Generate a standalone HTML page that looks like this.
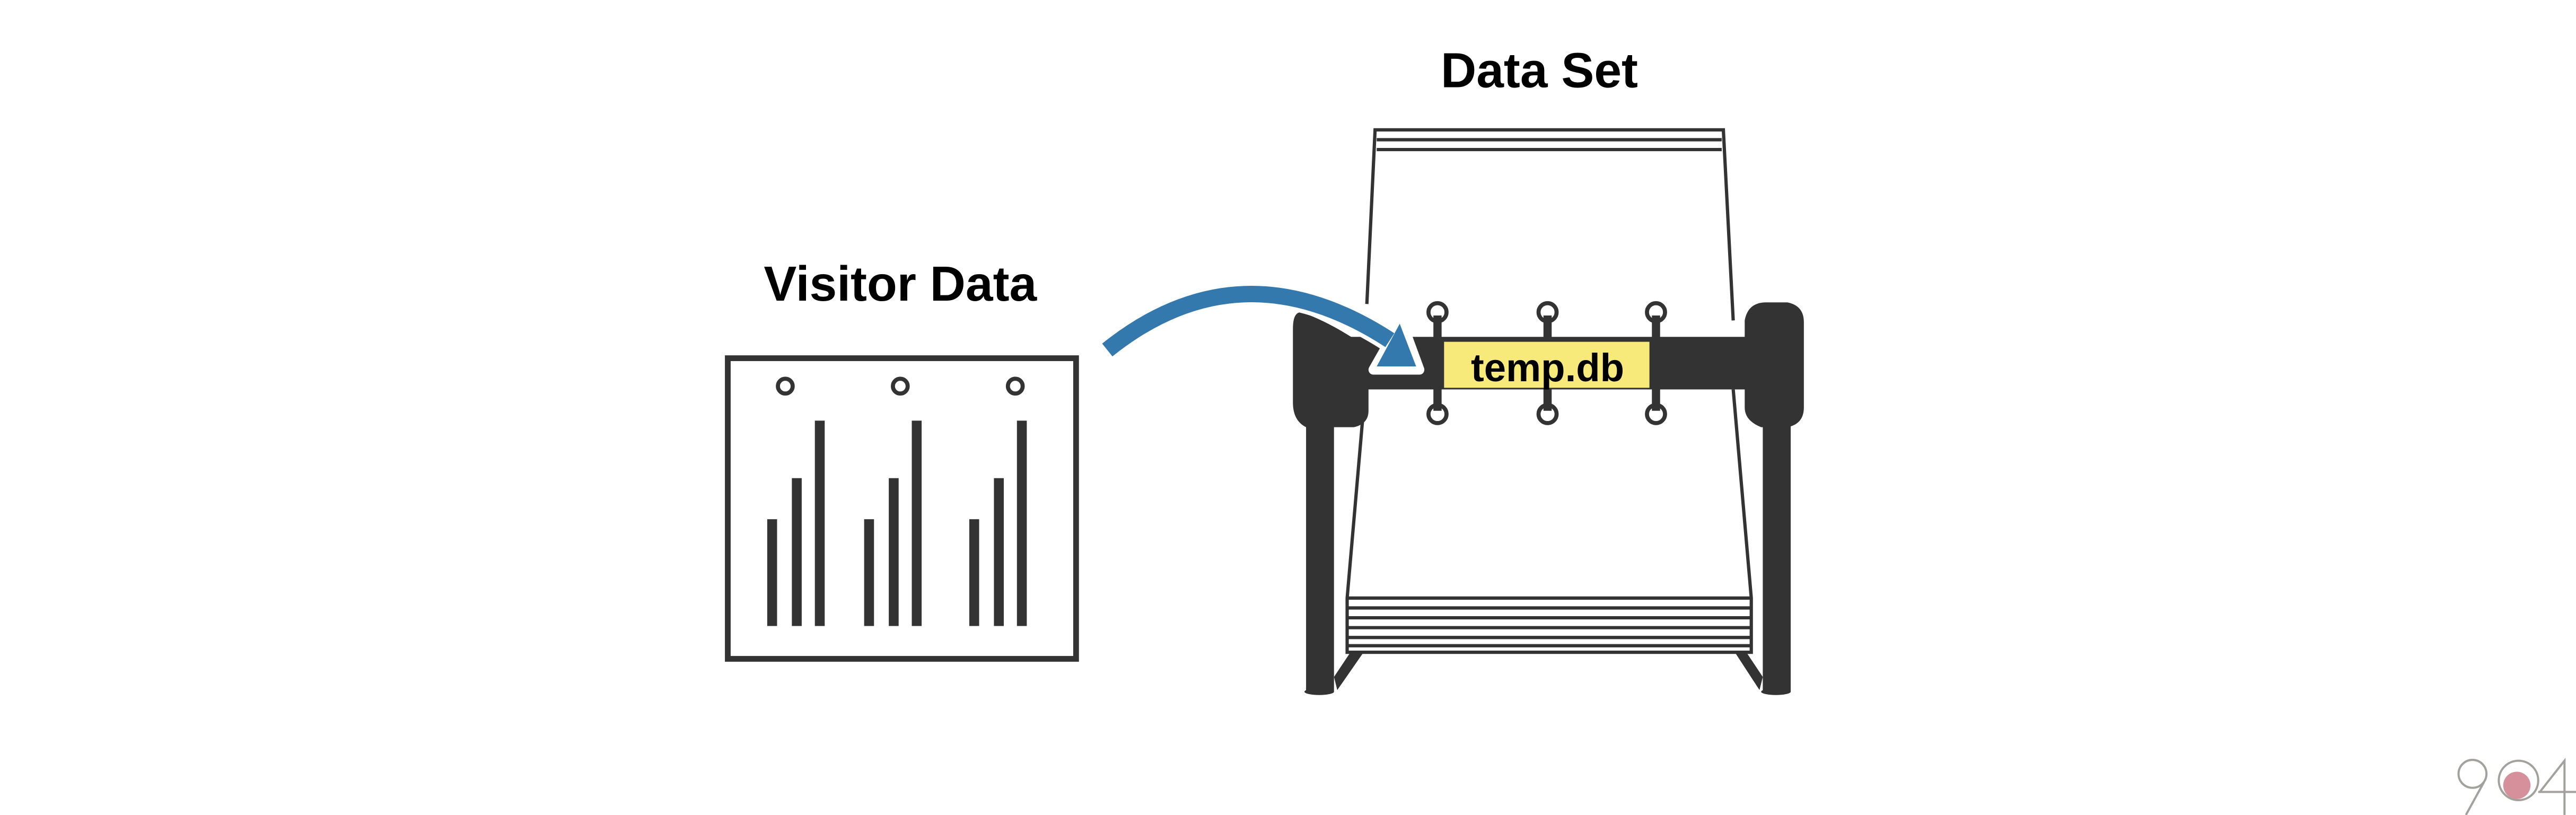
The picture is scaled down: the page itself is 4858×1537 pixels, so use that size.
<!DOCTYPE html>
<html><head><meta charset="utf-8"><style>html,body{margin:0;padding:0;background:#fff}svg{display:block}</style></head>
<body>
<svg width="4858" height="1537" viewBox="0 0 1568 496" xmlns="http://www.w3.org/2000/svg">
<rect width="1568" height="496" fill="#fff"/>
<g font-family="'Liberation Sans', sans-serif" font-weight="bold" fill="#000">
<text x="937" y="53" font-size="30" text-anchor="middle">Data Set</text>
<text x="548" y="183" font-size="30" text-anchor="middle">Visitor Data</text>
</g>
<!-- Visitor card -->
<rect x="443" y="218" width="212" height="183" fill="none" stroke="#333" stroke-width="3.5"/>
<g fill="none" stroke="#333" stroke-width="2.5">
<circle cx="478" cy="235" r="4.5"/><circle cx="548" cy="235" r="4.5"/><circle cx="618" cy="235" r="4.5"/>
</g>
<g fill="#333">
<rect x="467" y="316" width="6" height="65"/><rect x="482" y="291" width="6" height="90"/><rect x="496" y="256" width="6" height="125"/>
<rect x="526" y="316" width="6" height="65"/><rect x="541" y="291" width="6" height="90"/><rect x="555" y="256" width="6" height="125"/>
<rect x="590" y="316" width="6" height="65"/><rect x="605" y="291" width="6" height="90"/><rect x="619" y="256" width="6" height="125"/>
</g>
<!-- Rolodex card outlines -->
<g fill="none" stroke="#333" stroke-width="2">
<polyline points="832,185 837,79 1049,79 1055,195"/>
<line x1="838" y1="85" x2="1048" y2="85"/><line x1="838" y1="91" x2="1048" y2="91"/>
<polyline points="831,237 820,364 820,397 1066,397 1066,364 1055,237"/>
<line x1="820" y1="364" x2="1066" y2="364"/><line x1="820" y1="370" x2="1066" y2="370"/>
<line x1="820" y1="376" x2="1066" y2="376"/><line x1="820" y1="382" x2="1066" y2="382"/>
<line x1="820" y1="388" x2="1066" y2="388"/><line x1="820" y1="393" x2="1066" y2="393"/>
</g>
<!-- legs -->
<g fill="#333">
<rect x="795" y="256" width="17" height="165"/>
<rect x="1073" y="256" width="17" height="165"/>
<polygon points="812,412 822,397 830,397 814,420"/>
<polygon points="1073,412 1063,397 1056,397 1071,420"/>
<ellipse cx="803" cy="421" rx="9" ry="2"/>
<ellipse cx="1081" cy="421" rx="9" ry="2"/>
<!-- bar -->
<rect x="820" y="205" width="245" height="32"/>
<path d="M792,190 Q810,196 833,212 L833,250 Q833,258 824,260 L795,260 Q787,256 787,245 L787,200 Q787,190 792,190 Z"/>
<path d="M1062,195 Q1064,184 1075,184 L1088,184 Q1098,186 1098,196 L1098,248 Q1098,258 1088,260 L1072,260 Q1062,256 1062,248 Z"/>
</g>
<!-- rings -->
<g fill="#333">
<rect x="872.5" y="192" width="5" height="58"/><rect x="939.5" y="192" width="5" height="58"/><rect x="1005.5" y="192" width="5" height="58"/>
</g>
<g fill="none" stroke="#333" stroke-width="2.5">
<circle cx="875" cy="190" r="5.5"/><circle cx="942" cy="190" r="5.5"/><circle cx="1008" cy="190" r="5.5"/>
<circle cx="875" cy="252" r="5.5"/><circle cx="942" cy="252" r="5.5"/><circle cx="1008" cy="252" r="5.5"/>
</g>
<rect x="879" y="208" width="125" height="28" fill="#f7ea7a"/>
<text x="942" y="232" font-family="'Liberation Sans', sans-serif" font-weight="bold" font-size="24" text-anchor="middle" fill="#000">temp.db</text>
<!-- arrow -->
<path d="M674,213 Q755,148 846,207" fill="none" stroke="#fff" stroke-width="15"/>
<polygon points="836,225 864,225 853,195" fill="#fff" stroke="#fff" stroke-width="6" stroke-linejoin="round"/>
<path d="M674,213 Q755,148 846,207" fill="none" stroke="#3479ae" stroke-width="10"/>
<polygon points="838,223 862,223 852,197" fill="#3479ae"/>
<!-- logo -->
<g fill="none" stroke="#a3a19c" stroke-width="1.3">
<circle cx="1505" cy="471" r="8.5"/>
<line x1="1512" y1="476" x2="1501" y2="496"/>
<circle cx="1533" cy="475" r="12"/>
<polyline points="1546,482 1561,463 1561,496"/>
<line x1="1545" y1="482" x2="1568" y2="482"/>
</g>
<circle cx="1532" cy="478" r="8.3" fill="#d5909b"/>
</svg>
</body></html>
